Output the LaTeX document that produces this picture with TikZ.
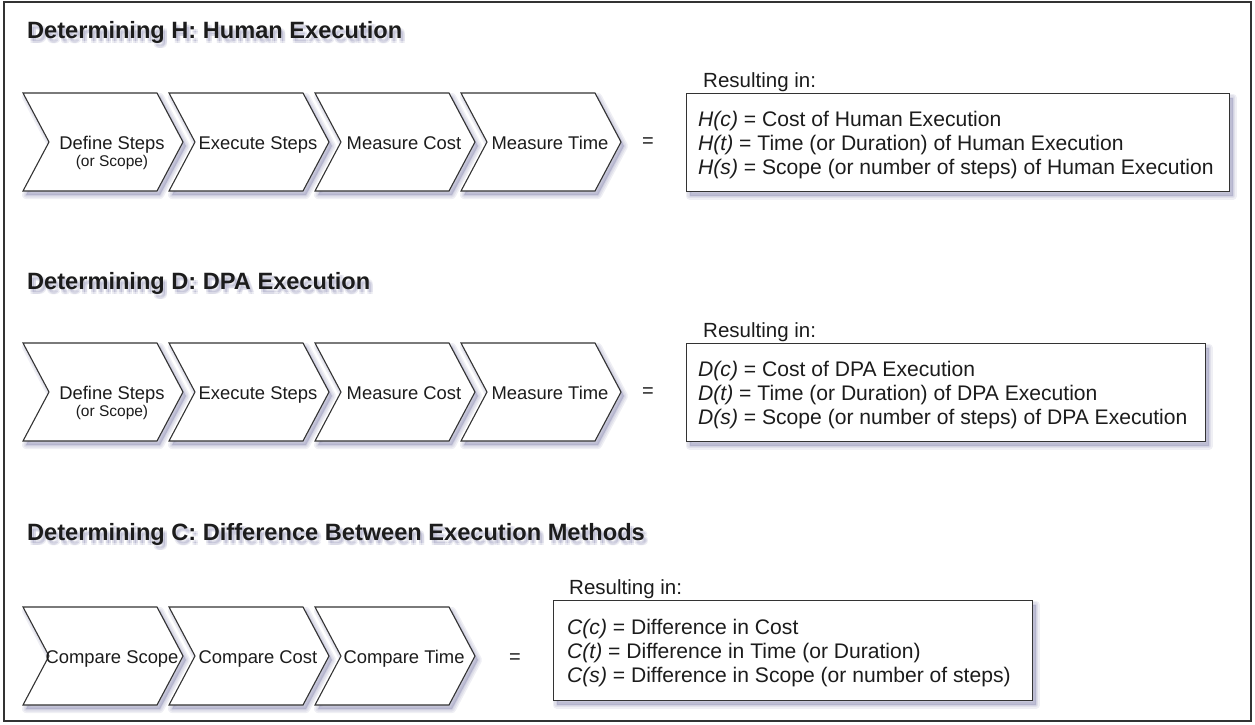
\documentclass[tikz,border=0pt]{standalone}
\usepackage{fontspec}
\setmainfont{Liberation Sans}

\definecolor{ink}{HTML}{1C1C1C}
\definecolor{edge}{HTML}{333333}
\definecolor{shade}{HTML}{6A6A9C}

% one chevron step: name, left x, top y, label
\newcommand\chevstep[4]{%
  \draw[chevshape] (#2,#3) -- ++(134,0) -- ++(26,49) -- ++(-26,49)
        -- ++(-134,0) -- ++(26,-49) -- cycle;
  \node[chevtext] (#1) at (#2+89,#3+56.5) {#4};
}

% bold section heading with a soft shadow behind it
\newcommand\heading[4]{% name, x, baseline y, text
  \foreach \dx/\dy [count=\k] in {2/3,4/3,2/5,4/5}{
    \node[headshadow] (#1s\k) at (#2+\dx,#3+\dy) {#4};}
  \node[headtext] (#1) at (#2,#3) {#4};
}

\begin{document}
\begin{tikzpicture}[x=1pt,y=-1pt,
  shadowlayer/.style={preaction={draw=shade, fill=shade, line width=#1,
      line join=round, opacity=0.11,
      transform canvas={shift={(3pt,-4pt)}}}},
  softshadow/.style={shadowlayer=8pt, shadowlayer=5pt, shadowlayer=2pt},
  chevshape/.style={draw=edge, line width=1.1pt, fill=white, softshadow},
  chevtext/.style={text=ink, anchor=base, inner sep=0pt,
    font=\fontsize{18.4}{17}\selectfont},
  chevsub/.style={text=ink, anchor=base, inner sep=0pt,
    font=\fontsize{15.5}{16}\selectfont},
  resbox/.style={draw=edge, line width=1.4pt, fill=white, anchor=north west,
    inner sep=0pt, softshadow},
  restext/.style={text=ink, align=left, anchor=west, inner sep=0pt,
    font=\fontsize{21.1}{24.2}\selectfont},
  reslabel/.style={text=ink, anchor=base west, inner sep=0pt,
    font=\fontsize{20.5}{24}\selectfont},
  equals/.style={text=ink, inner sep=0pt, font=\fontsize{20}{24}\selectfont},
  headtext/.style={text=ink, anchor=base west, inner sep=0pt,
    font=\fontsize{23.6}{28}\selectfont\bfseries},
  headshadow/.style={headtext, text=shade, opacity=0.13}
]
\useasboundingbox (0,0) rectangle (1255,724);

% outer frame
\draw[line width=2pt, draw=edge] (4,2) rectangle (1251,721);

% ---------- H: human execution ----------
\heading{titleH}{27}{38.5}{Determining H: Human Execution}
\chevstep{h1}{23}{93}{Define Steps}
\node[chevsub] (h1sub) at ([yshift=-17pt]h1.base) {(or Scope)};
\chevstep{h2}{169}{93}{Execute Steps}
\chevstep{h3}{315}{93}{Measure Cost}
\chevstep{h4}{461}{93}{Measure Time}
\node[equals] (eqH) at (648,143) {=};
\node[resbox, minimum width=543, minimum height=98] (boxH) at (686,93) {};
\node[reslabel] (labH) at (703,87.5) {Resulting in:};
\node[restext] (txtH) at ([xshift=12pt,yshift=-2.5pt]boxH.west)
  {\textit{H(c)} = Cost of Human Execution\\
   \textit{H(t)} = Time (or Duration) of Human Execution\\
   \textit{H(s)} = Scope (or number of steps) of Human Execution};

% ---------- D: DPA execution ----------
\heading{titleD}{27}{289}{Determining D: DPA Execution}
\chevstep{d1}{23}{343}{Define Steps}
\node[chevsub] (d1sub) at ([yshift=-17pt]d1.base) {(or Scope)};
\chevstep{d2}{169}{343}{Execute Steps}
\chevstep{d3}{315}{343}{Measure Cost}
\chevstep{d4}{461}{343}{Measure Time}
\node[equals] (eqD) at (648,393) {=};
\node[resbox, minimum width=519, minimum height=98] (boxD) at (686,343) {};
\node[reslabel] (labD) at (703,337.5) {Resulting in:};
\node[restext] (txtD) at ([xshift=12pt,yshift=-2.5pt]boxD.west)
  {\textit{D(c)} = Cost of DPA Execution\\
   \textit{D(t)} = Time (or Duration) of DPA Execution\\
   \textit{D(s)} = Scope (or number of steps) of DPA Execution};

% ---------- C: difference between methods ----------
\heading{titleC}{27}{540}{Determining C: Difference Between Execution Methods}
\chevstep{c1}{23}{607}{Compare Scope}
\chevstep{c2}{169}{607}{Compare Cost}
\chevstep{c3}{315}{607}{Compare Time}
\node[equals] (eqC) at (515,659) {=};
\node[resbox, minimum width=479, minimum height=100] (boxC) at (553,600) {};
\node[reslabel] (labC) at (569,594.5) {Resulting in:};
\node[restext] (txtC) at ([xshift=14pt,yshift=-2.5pt]boxC.west)
  {\textit{C(c)} = Difference in Cost\\
   \textit{C(t)} = Difference in Time (or Duration)\\
   \textit{C(s)} = Difference in Scope (or number of steps)};
\end{tikzpicture}
\end{document}
